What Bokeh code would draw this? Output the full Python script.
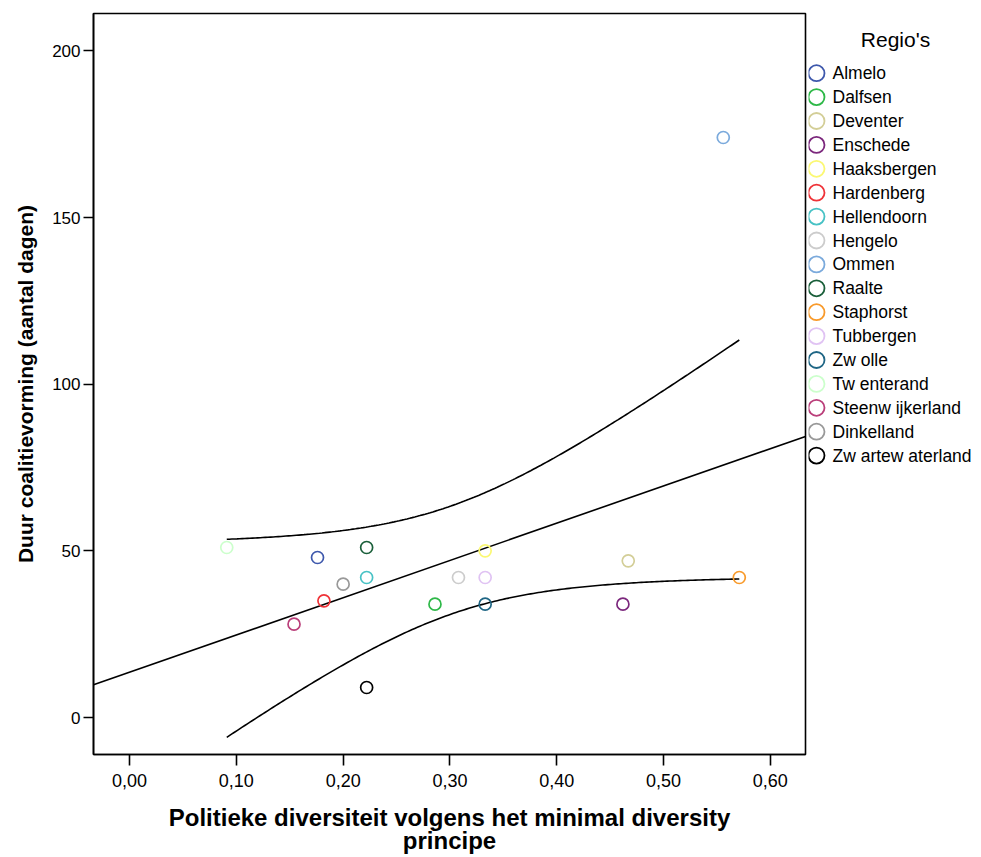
import numpy as np
from bokeh.plotting import figure
from bokeh.models import Range1d, FixedTicker, ColumnDataSource
from bokeh.layouts import row
from bokeh.embed import file_html
from bokeh.resources import INLINE
from bokeh.core.properties import value

# ---------------- data ----------------
regions = ["Almelo", "Dalfsen", "Deventer", "Enschede", "Haaksbergen", "Hardenberg",
           "Hellendoorn", "Hengelo", "Ommen", "Raalte", "Staphorst", "Tubbergen",
           "Zw olle", "Tw enterand", "Steenw ijkerland", "Dinkelland", "Zw artew aterland"]
colors = ["#3E58AC", "#2EB848", "#D3CE97", "#7C287D", "#FBF873", "#EF3338",
          "#48C2C5", "#CCCCCC", "#7BAADC", "#1A5F3A", "#F89A2B", "#E0C3F3",
          "#1F6685", "#CCFFCC", "#BA3F7A", "#999999", "#000000"]
diversity = [0.176, 0.286, 0.467, 0.462, 0.333, 0.182, 0.222, 0.308, 0.556,
             0.222, 0.571, 0.333, 0.333, 0.091, 0.154, 0.200, 0.222]
days = [48, 34, 47, 34, 50, 35, 42, 42, 174, 51, 42, 42, 34, 51, 28, 40, 9]

x_ticks = [0.0, 0.1, 0.2, 0.3, 0.4, 0.5, 0.6]
x_tick_labels = ["0,00", "0,10", "0,20", "0,30", "0,40", "0,50", "0,60"]
y_ticks = [0, 50, 100, 150, 200]

FONT = "Liberation Sans"
H = 857
TOP, BOTTOM_BORDER = 13, 103
FRAME_TOP, FRAME_BOTTOM = TOP, H - BOTTOM_BORDER

# ---------------- regression + 95% CI of mean ----------------
x = np.array(diversity)
y = np.array(days, dtype=float)
n = len(x)
slope, intercept = np.polyfit(x, y, 1)
resid = y - (intercept + slope * x)
s2 = np.sum(resid ** 2) / (n - 2)
sxx = np.sum((x - x.mean()) ** 2)
t_crit = 2.131  # t(0.975, df=15)

x_lo, x_hi = -0.0338, 0.633
fit_x = np.array([x_lo, x_hi])
fit_y = intercept + slope * fit_x
ci_x = np.linspace(x.min(), x.max(), 200)
ci_fit = intercept + slope * ci_x
ci_half = t_crit * np.sqrt(s2 * (1.0 / n + (ci_x - x.mean()) ** 2 / sxx))

# ---------------- main figure ----------------
p = figure(width=808, height=H, output_backend="svg", toolbar_location=None,
           x_range=Range1d(x_lo, x_hi), y_range=Range1d(-11.1, 211.2),
           min_border_left=93, min_border_right=3, min_border_top=TOP,
           min_border_bottom=BOTTOM_BORDER)
p.grid.visible = False
p.outline_line_color = "black"
p.outline_line_width = 1.6
p.background_fill_color = "white"
p.border_fill_color = "white"

p.line(fit_x, fit_y, line_color="black", line_width=1.6)
p.line(ci_x, ci_fit + ci_half, line_color="black", line_width=1.6)
p.line(ci_x, ci_fit - ci_half, line_color="black", line_width=1.6)

src = ColumnDataSource(dict(x=diversity, y=days, c=colors, r=regions))
p.scatter("x", "y", source=src, size=12, line_color="c", fill_alpha=0, line_width=1.7)

p.xaxis.ticker = FixedTicker(ticks=x_ticks)
p.xaxis.major_label_overrides = {t: l for t, l in zip(x_ticks, x_tick_labels)}
p.yaxis.ticker = FixedTicker(ticks=y_ticks)
for ax in (p.xaxis, p.yaxis):
    ax.minor_tick_line_color = None
    ax.major_tick_in = 0
    ax.major_tick_line_width = 1.6
    ax.axis_line_width = 1.6
    ax.axis_line_color = "black"
    ax.major_label_text_font = FONT
    ax.major_label_text_color = "black"
    ax.axis_label_text_font = FONT
    ax.axis_label_text_font_style = "bold"
    ax.axis_label_text_color = "black"

p.xaxis.major_tick_out = 11
p.yaxis.major_tick_out = 10
p.xaxis.major_label_text_font_size = "18px"
p.yaxis.major_label_text_font_size = "17px"
p.xaxis.major_label_standoff = 8
p.yaxis.major_label_standoff = 3
p.xaxis.axis_label = "Politieke diversiteit volgens het minimal diversity\nprincipe"
p.yaxis.axis_label = "Duur coalitievorming (aantal dagen)"
p.xaxis.axis_label_text_font_size = "24px"
p.xaxis.axis_label_text_line_height = 0.87
p.yaxis.axis_label_text_font_size = "21px"
p.xaxis.axis_label_standoff = 14
p.yaxis.axis_label_standoff = 12

# ---------------- legend figure (frame aligned with main frame) ----------------
lg = figure(width=173, height=H, output_backend="svg", toolbar_location=None,
            x_range=Range1d(0, 173), y_range=Range1d(FRAME_BOTTOM, FRAME_TOP),
            x_axis_location=None, y_axis_location=None,
            min_border_left=0, min_border_right=0, min_border_top=TOP,
            min_border_bottom=BOTTOM_BORDER)
lg.grid.visible = False
lg.outline_line_color = None
lg.background_fill_color = "white"
lg.border_fill_color = "white"

first_y, step = 72.7, 23.9
item_y = [first_y + i * step for i in range(len(regions))]
lsrc = ColumnDataSource(dict(y=item_y, c=colors, r=regions,
                             mx=[8] * len(regions), tx=[24] * len(regions)))
lg.scatter("mx", "y", source=lsrc, size=16, line_color="c", fill_alpha=0, line_width=1.8)
lg.text("tx", "y", text="r", source=lsrc, text_font=value(FONT), text_font_size="17.5px",
        text_baseline="middle", text_align="left", text_color="black")
lg.text([87], [39], text=["Regio's"], text_font=value(FONT), text_font_size="21px",
        text_baseline="middle", text_align="center", text_color="black")

layout = row(p, lg)
open("out.html", "w").write(file_html(layout, INLINE))
